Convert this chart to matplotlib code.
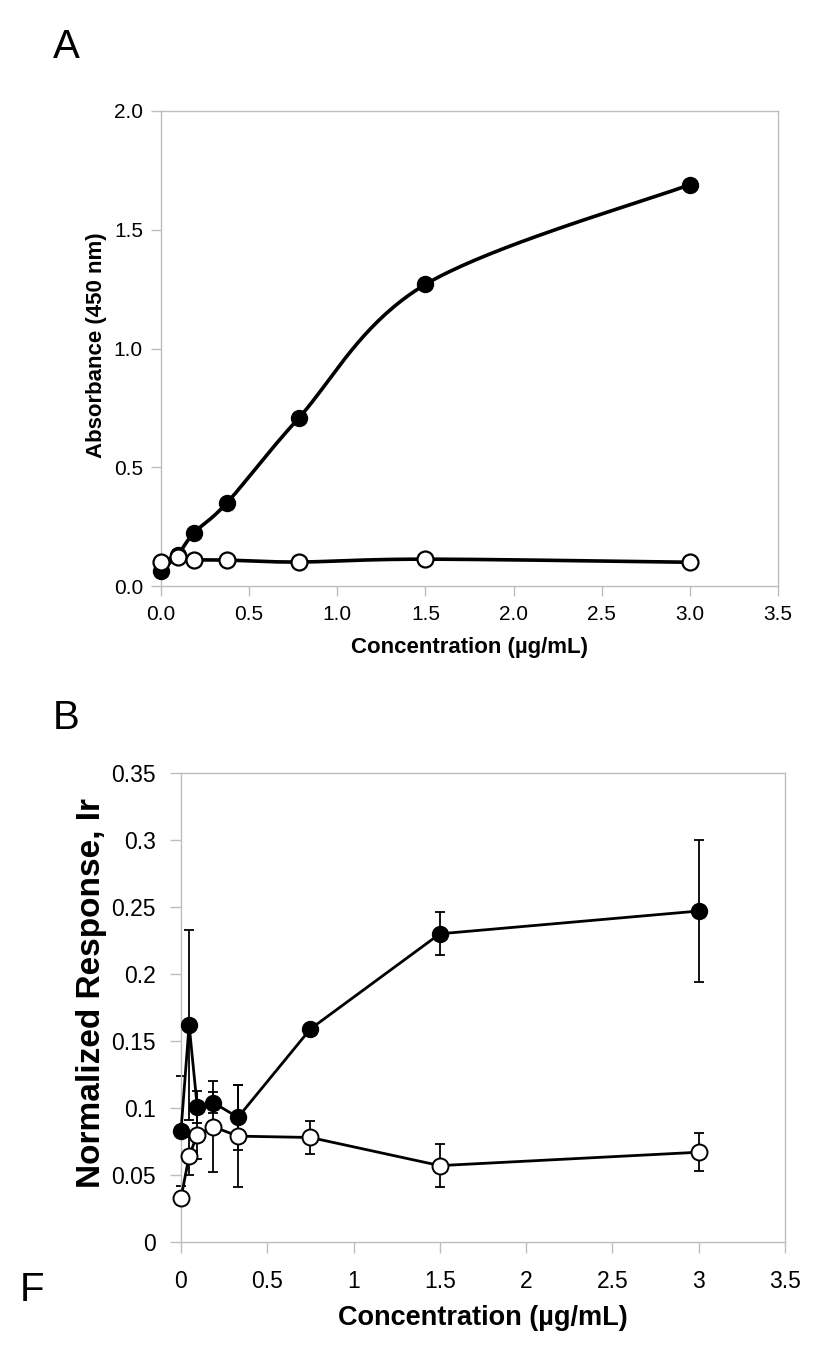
import numpy as np
import matplotlib
matplotlib.use("Agg")
import matplotlib.pyplot as plt

# --- data ---
# panel A: absorbance vs concentration
conc_a = [0, 0.094, 0.1875, 0.375, 0.78, 1.5, 3.0]
abs_filled = [0.065, 0.13, 0.224, 0.351, 0.706, 1.27, 1.69]
abs_open = [0.10, 0.123, 0.111, 0.109, 0.101, 0.113, 0.10]

# panel B: normalized response with error bars
conc_b = [0, 0.047, 0.094, 0.1875, 0.33, 0.75, 1.5, 3.0]
resp_filled = [0.083, 0.162, 0.101, 0.104, 0.093, 0.159, 0.230, 0.247]
err_filled = [0.041, 0.071, 0.012, 0.008, 0.024, 0.004, 0.016, 0.053]
resp_open = [0.033, 0.064, 0.080, 0.086, 0.079, 0.078, 0.057, 0.067]
err_open = [0.003, 0.014, 0.018, 0.034, 0.038, 0.012, 0.016, 0.014]

xticks_a = [0, 0.5, 1.0, 1.5, 2.0, 2.5, 3.0, 3.5]
yticks_a = [0, 0.5, 1.0, 1.5, 2.0]
xticks_b = [0, 0.5, 1, 1.5, 2, 2.5, 3, 3.5]
yticks_b = [0, 0.05, 0.1, 0.15, 0.2, 0.25, 0.3, 0.35]

REG = ["Liberation Sans", "DejaVu Sans"]
GRAY = "#bdbdbd"


def smooth(x, y, sx, sy, n=40):
    # Excel-style smoothed line (Catmull-Rom bezier), built in screen-like units
    P = np.column_stack([np.asarray(x) * sx, np.asarray(y) * sy])
    out = []
    for i in range(len(P) - 1):
        p0 = P[max(i - 1, 0)]
        p1 = P[i]
        p2 = P[i + 1]
        p3 = P[min(i + 2, len(P) - 1)]
        c1 = p1 + (p2 - p0) / 6
        c2 = p2 - (p3 - p1) / 6
        t = np.linspace(0, 1, n)[:, None]
        seg = ((1 - t) ** 3) * p1 + 3 * ((1 - t) ** 2) * t * c1 + 3 * (1 - t) * t ** 2 * c2 + t ** 3 * p2
        out.append(seg if i == 0 else seg[1:])
    out = np.vstack(out)
    return out[:, 0] / sx, out[:, 1] / sy


def frame(ax, ticklen):
    for s in ax.spines.values():
        s.set_color(GRAY)
        s.set_linewidth(1.0)
    ax.tick_params(direction="out", color=GRAY, length=ticklen, width=1.0,
                   labelcolor="black", top=False, right=False)


fig = plt.figure(figsize=(8.2, 13.48), dpi=100)

# ---------------- panel A ----------------
axA = fig.add_axes([161 / 820, 1 - 586 / 1348, 617 / 820, 475 / 1348])
sx, sy = 176.3, 237.0
xs, ys = smooth(conc_a, abs_filled, sx, sy)
axA.plot(xs, ys, color="black", lw=2.6, zorder=2)
axA.plot(conc_a, abs_filled, "o", color="black", ms=11.5, mec="black", zorder=3)
xs, ys = smooth(conc_a, abs_open, sx, sy)
axA.plot(xs, ys, color="black", lw=2.6, zorder=4)
axA.plot(conc_a, abs_open, "o", mfc="white", mec="black", mew=1.6, ms=11.5, zorder=5)
axA.set_xlim(0, 3.5)
axA.set_ylim(0, 2.0)
axA.set_xticks(xticks_a)
axA.set_xticklabels([f"{v:.1f}" for v in xticks_a], family=REG, fontsize=15)
axA.set_yticks(yticks_a)
axA.set_yticklabels([f"{v:.1f}" for v in yticks_a], family=REG, fontsize=15)
frame(axA, 7)
axA.tick_params(axis="x", pad=7)
axA.tick_params(axis="y", pad=6)
for ln in axA.get_lines():
    ln.set_clip_on(False)

fig.text(470 / 820, 1 - 648 / 1348, "Concentration (µg/mL)", ha="center", va="center",
         family=REG, fontsize=16, fontweight="bold")
fig.text(97 / 820, 1 - 345 / 1348, "Absorbance (450 nm)", ha="center", va="center",
         rotation=90, family=REG, fontsize=16, fontweight="bold")

# ---------------- panel B ----------------
axB = fig.add_axes([181 / 820, 1 - 1242 / 1348, 604 / 820, 469 / 1348])
axB.errorbar(conc_b, resp_filled, yerr=err_filled, fmt="none", ecolor="black",
             elinewidth=1.3, capsize=3.8, capthick=1.3, zorder=2)
axB.errorbar(conc_b, resp_open, yerr=err_open, fmt="none", ecolor="black",
             elinewidth=1.3, capsize=3.8, capthick=1.3, zorder=2)
axB.plot(conc_b, resp_filled, "-o", color="black", lw=2.0, ms=11.5, zorder=3)
axB.plot(conc_b, resp_open, "-o", color="black", lw=2.0, mfc="white", mec="black",
         mew=1.4, ms=11.5, zorder=4)
axB.set_xlim(0, 3.5)
axB.set_ylim(0, 0.35)
axB.set_xticks(xticks_b)
axB.set_xticklabels([f"{v:g}" for v in xticks_b], family=REG, fontsize=16.5)
axB.set_yticks(yticks_b)
axB.set_yticklabels([f"{v:g}" for v in yticks_b], family=REG, fontsize=16.5)
frame(axB, 8)
axB.tick_params(axis="x", pad=12)
axB.tick_params(axis="y", pad=10)
for ln in axB.get_lines():
    ln.set_clip_on(False)

fig.text(483 / 820, 1 - 1318 / 1348, "Concentration (µg/mL)", ha="center", va="center",
         family=REG, fontsize=19.5, fontweight="bold")
fig.text(92 / 820, 1 - 993 / 1348, "Normalized Response, Ir", ha="center", va="center",
         rotation=90, family=REG, fontsize=24, fontweight="bold")

# panel letters
fig.text(66 / 820, 1 - 47 / 1348, "A", ha="center", va="center", family=REG, fontsize=29)
fig.text(66 / 820, 1 - 718 / 1348, "B", ha="center", va="center", family=REG, fontsize=29)
fig.text(32 / 820, 1 - 1290 / 1348, "F", ha="center", va="center", family=REG, fontsize=29)

fig.savefig("out.png", dpi=100)
